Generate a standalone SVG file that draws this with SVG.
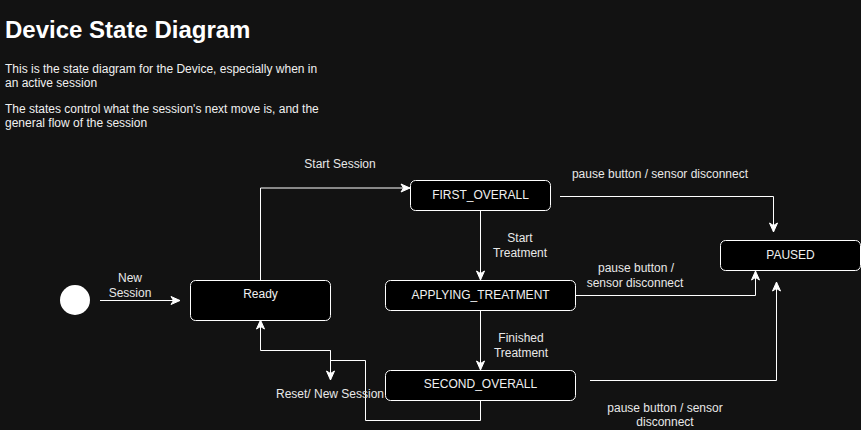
<svg xmlns="http://www.w3.org/2000/svg" width="861" height="430" viewBox="0 0 861 430">
<defs>
<marker id="arr" markerUnits="userSpaceOnUse" markerWidth="12" markerHeight="12" viewBox="0 0 12 12" refX="10" refY="6" orient="auto">
<path d="M1,2 L10,6 L1,10 L3.5,6 Z" fill="#ffffff" stroke="#ffffff" stroke-width="1"/>
</marker>
<style>
.t{font-family:"Liberation Sans",Arial,sans-serif;fill:#f0f0f0}
.title{font-size:24px;font-weight:bold;fill:#ffffff}
.body{font-size:12px}
.lbl{font-size:12px;text-anchor:middle;fill:#e8e8e8}
.node rect{fill:#000000;stroke:#ffffff;stroke-width:1}
.node text{font-family:"Liberation Sans",Arial,sans-serif;font-size:12px;fill:#f0f0f0;text-anchor:middle}
.e{fill:none;stroke:#ffffff;stroke-width:1}
</style>
</defs>
<rect x="0" y="0" width="861" height="430" fill="#121212"/>
<g id="header">
<text class="t title" x="5" y="37.5">Device State Diagram</text>
<text class="t body" x="5" y="72.5">This is the state diagram for the Device, especially when in</text>
<text class="t body" x="5" y="86.5">an active session</text>
<text class="t body" x="5" y="112.5">The states control what the session's next move is, and the</text>
<text class="t body" x="5" y="126.5">general flow of the session</text>
</g>
<g id="connectors">
<path class="e" d="M100,300.5 H180" marker-end="url(#arr)"/>
<path class="e" d="M260.5,280 V188 H410" marker-end="url(#arr)"/>
<path class="e" d="M480.5,210 V280" marker-end="url(#arr)"/>
<path class="e" d="M480.5,310 V370" marker-end="url(#arr)"/>
<path class="e" d="M560,196.5 H773.5 V232" marker-end="url(#arr)"/>
<path class="e" d="M575,295.5 H755.5 V271" marker-end="url(#arr)"/>
<path class="e" d="M590,380.5 H776.5 V282" marker-end="url(#arr)"/>
<path class="e" d="M480.5,400 V420.5 H365.5 V360.5 H330.5 V350.5 H260.5 V320" marker-end="url(#arr)"/>
<path class="e" d="M330.5,350.5 V380" marker-end="url(#arr)"/>
<text class="t lbl" x="130" y="282">New</text>
<text class="t lbl" x="130" y="297">Session</text>
<text class="t lbl" x="340" y="168">Start Session</text>
<text class="t lbl" x="520" y="242">Start</text>
<text class="t lbl" x="520" y="257">Treatment</text>
<text class="t lbl" x="521" y="342">Finished</text>
<text class="t lbl" x="521" y="357">Treatment</text>
<text class="t lbl" x="660" y="178">pause button / sensor disconnect</text>
<text class="t lbl" x="636" y="272">pause button /</text>
<text class="t lbl" x="635" y="287">sensor disconnect</text>
<text class="t lbl" x="665" y="412">pause button / sensor</text>
<text class="t lbl" x="665" y="426">disconnect</text>
<text class="t lbl" x="330" y="398">Reset/ New Session</text>
</g>
<g id="start"><circle cx="75" cy="300" r="15" fill="#ffffff"/></g>
<g id="ready" class="node"><rect x="190.5" y="280.5" width="140" height="40" rx="5"/><text x="260.5" y="298">Ready</text></g>
<g id="first_overall" class="node"><rect x="410.5" y="180.5" width="140" height="30" rx="5"/><text x="480.5" y="199">FIRST_OVERALL</text></g>
<g id="applying_treatment" class="node"><rect x="385.5" y="280.5" width="190" height="30" rx="5"/><text x="480.5" y="299">APPLYING_TREATMENT</text></g>
<g id="second_overall" class="node"><rect x="385.5" y="370.5" width="190" height="30" rx="5"/><text x="480.5" y="388">SECOND_OVERALL</text></g>
<g id="paused" class="node"><rect x="720.5" y="240.5" width="140" height="30" rx="5"/><text x="790.5" y="259">PAUSED</text></g>
</svg>
